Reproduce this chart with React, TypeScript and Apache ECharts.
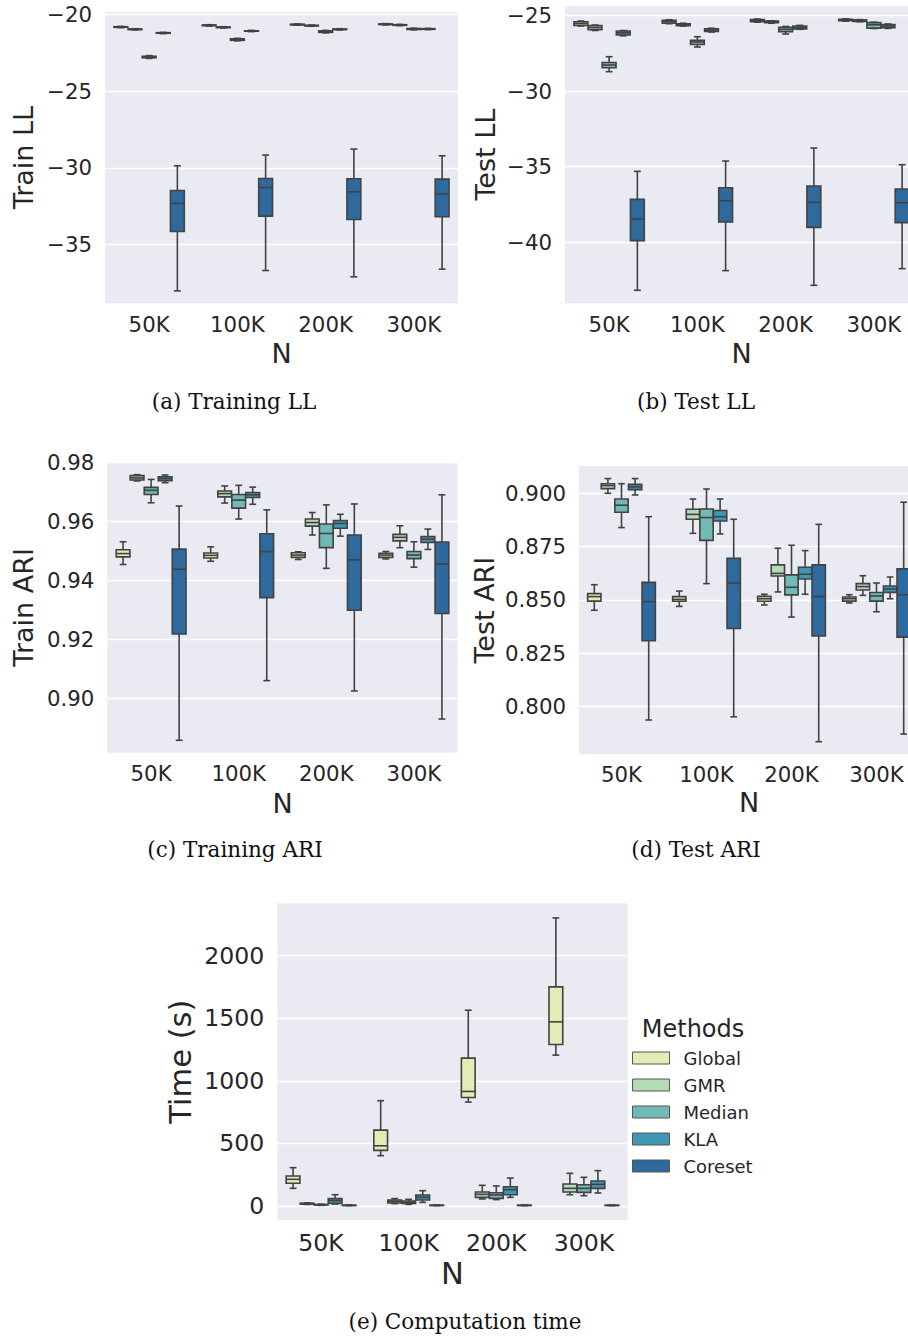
import React, { useEffect, useRef } from "react";
import * as echarts from "echarts";

const categories = ["50K", "100K", "200K", "300K"];
const methods = ["Global", "GMR", "Median", "KLA", "Coreset"];
const methodColors = ["#e2ecb4", "#b4dbb6", "#70b9b4", "#3e97b6", "#2e6a9e"];

// each row: [min, q1, median, q3, max] for 50K, 100K, 200K, 300K
const trainLLGlobal = [[-20.85, -20.83, -20.81, -20.79, -20.77], [-20.74, -20.72, -20.7, -20.68, -20.66], [-20.69, -20.67, -20.65, -20.63, -20.61], [-20.67, -20.65, -20.63, -20.61, -20.59]];
const trainLLGMR = [[-21.0, -20.98, -20.96, -20.94, -20.92], [-20.87, -20.85, -20.83, -20.81, -20.79], [-20.76, -20.74, -20.72, -20.7, -20.68], [-20.72, -20.7, -20.68, -20.66, -20.64]];
const trainLLMedian = [[-22.86, -22.82, -22.77, -22.72, -22.68], [-21.71, -21.68, -21.63, -21.58, -21.55], [-21.19, -21.16, -21.11, -21.06, -21.03], [-20.99, -20.97, -20.94, -20.91, -20.89]];
const trainLLKLA = [[-21.24, -21.22, -21.2, -21.18, -21.16], [-21.11, -21.09, -21.07, -21.05, -21.03], [-21.0, -20.98, -20.96, -20.94, -20.92], [-20.98, -20.96, -20.94, -20.92, -20.9]];
const trainLLCoreset = [[-38.04, -34.16, -32.33, -31.48, -29.87], [-36.71, -33.16, -31.29, -30.7, -29.17], [-37.12, -33.38, -31.57, -30.72, -28.78], [-36.62, -33.2, -31.7, -30.74, -29.22]];

const testLLGlobal = [[-25.7, -25.66, -25.53, -25.42, -25.37], [-25.55, -25.51, -25.4, -25.33, -25.29], [-25.45, -25.41, -25.33, -25.27, -25.24], [-25.38, -25.35, -25.3, -25.26, -25.23]];
const testLLGMR = [[-26.0, -25.95, -25.81, -25.68, -25.64], [-25.7, -25.68, -25.62, -25.55, -25.52], [-25.52, -25.49, -25.44, -25.38, -25.36], [-25.42, -25.4, -25.35, -25.3, -25.28]];
const testLLMedian = [[-28.72, -28.46, -28.28, -28.11, -27.73], [-27.09, -26.92, -26.76, -26.65, -26.41], [-26.23, -26.08, -25.93, -25.79, -25.73], [-25.87, -25.84, -25.62, -25.48, -25.45]];
const testLLKLA = [[-26.35, -26.3, -26.15, -26.03, -26.0], [-26.1, -26.06, -25.97, -25.88, -25.85], [-25.92, -25.89, -25.81, -25.7, -25.66], [-25.86, -25.82, -25.7, -25.6, -25.57]];
const testLLCoreset = [[-43.17, -39.89, -38.46, -37.16, -35.31], [-41.87, -38.66, -37.25, -36.39, -34.63], [-42.84, -39.01, -37.36, -36.28, -33.77], [-41.74, -38.7, -37.38, -36.48, -34.87]];

const trainARIGlobal = [[0.9453, 0.9479, 0.949, 0.9503, 0.953], [0.9464, 0.9475, 0.9484, 0.9492, 0.9513], [0.947, 0.9477, 0.9485, 0.9493, 0.9496], [0.9472, 0.9477, 0.9485, 0.9491, 0.9497]];
const trainARIGMR = [[0.9736, 0.9739, 0.9746, 0.9754, 0.9757], [0.9661, 0.9682, 0.9693, 0.9702, 0.9719], [0.9553, 0.9583, 0.9595, 0.9607, 0.9629], [0.951, 0.9533, 0.9545, 0.9555, 0.9584]];
const trainARIMedian = [[0.9662, 0.969, 0.9704, 0.9714, 0.9741], [0.9607, 0.9644, 0.9671, 0.969, 0.9721], [0.944, 0.951, 0.9558, 0.959, 0.9655], [0.9444, 0.9473, 0.9485, 0.9497, 0.953]];
const trainARIKLA = [[0.973, 0.9737, 0.9744, 0.975, 0.9756], [0.9657, 0.968, 0.9689, 0.9697, 0.9715], [0.9549, 0.9576, 0.9592, 0.9602, 0.9623], [0.9504, 0.9528, 0.9539, 0.9548, 0.9573]];
const trainARICoreset = [[0.8858, 0.9218, 0.9437, 0.9505, 0.9651], [0.906, 0.9341, 0.9497, 0.9557, 0.9638], [0.9025, 0.9298, 0.9469, 0.9553, 0.9658], [0.893, 0.9287, 0.9455, 0.9529, 0.9689]];

const testARIGlobal = [[0.8451, 0.8494, 0.8515, 0.8529, 0.8571], [0.8469, 0.8493, 0.8502, 0.8515, 0.8541], [0.8476, 0.8493, 0.8505, 0.8516, 0.8526], [0.8485, 0.8494, 0.8505, 0.8513, 0.8524]];
const testARIGMR = [[0.9, 0.9022, 0.9036, 0.9045, 0.9069], [0.8812, 0.8878, 0.8901, 0.8925, 0.8973], [0.8537, 0.8612, 0.8624, 0.8664, 0.8742], [0.8521, 0.8546, 0.8562, 0.8576, 0.8613]];
const testARIMedian = [[0.8839, 0.8911, 0.8944, 0.8973, 0.9045], [0.8576, 0.8779, 0.8886, 0.8926, 0.902], [0.8419, 0.8523, 0.8559, 0.8617, 0.8756], [0.8444, 0.8494, 0.8518, 0.8534, 0.8579]];
const testARIKLA = [[0.8992, 0.9017, 0.903, 0.9042, 0.9069], [0.8809, 0.887, 0.889, 0.8919, 0.8973], [0.8526, 0.8598, 0.862, 0.8653, 0.8731], [0.8505, 0.8535, 0.8551, 0.8565, 0.8607]];
const testARICoreset = [[0.7936, 0.8308, 0.8491, 0.8582, 0.889], [0.7951, 0.8366, 0.8579, 0.8695, 0.8878], [0.7834, 0.833, 0.8516, 0.8664, 0.8854], [0.787, 0.8325, 0.8524, 0.8645, 0.8958]];

const timeGlobal = [[141, 181, 213, 239, 306], [402, 444, 481, 606, 841], [830, 867, 915, 1181, 1564], [1205, 1290, 1471, 1750, 2301]];
const timeGMR = [[12, 15, 18, 22, 25], [19, 24, 37, 48, 59], [56, 69, 93, 112, 165], [90, 112, 141, 176, 261]];
const timeMedian = [[5, 8, 10, 12, 14], [13, 20, 29, 40, 53], [51, 61, 88, 106, 160], [82, 109, 141, 170, 229]];
const timeKLA = [[16, 21, 43, 59, 90], [29, 48, 69, 88, 122], [69, 90, 130, 154, 223], [104, 141, 173, 200, 282]];
const timeCoreset = [[3, 4, 5, 6, 7], [3, 4, 5, 6, 7], [3, 4, 5, 6, 7], [3, 4, 5, 6, 7]];

const trainLLTicks = [-35, -30, -25, -20];
const testLLTicks = [-40, -35, -30, -25];
const trainARITicks = [0.9, 0.92, 0.94, 0.96, 0.98];
const testARITicks = [0.8, 0.825, 0.85, 0.875, 0.9];
const timeTicks = [0, 500, 1000, 1500, 2000];

const TEXT = "#262626";
const EDGE = "#424242";
const FONT = "DejaVu Sans";

const panels = [
  { yName: "Train LL", data: [trainLLGlobal, trainLLGMR, trainLLMedian, trainLLKLA, trainLLCoreset], ticks: trainLLTicks, digits: 0, min: -38.85, max: -19.83,
    grid: { left: 105, top: 12, width: 353, height: 291.3 }, tickSize: 21.3, nameSize: 27, yGap: 68, xGap: 37, xMargin: 11, caption: "(a) Training LL", capX: 234, capY: 401 },
  { yName: "Test LL", data: [testLLGlobal, testLLGMR, testLLMedian, testLLKLA, testLLCoreset], ticks: testLLTicks, digits: 0, min: -44.03, max: -24.38,
    grid: { left: 565, top: 6, width: 353, height: 297.3 }, tickSize: 21.3, nameSize: 27, yGap: 66, xGap: 37, xMargin: 11, caption: "(b) Test LL", capX: 696, capY: 401 },
  { yName: "Train ARI", data: [trainARIGlobal, trainARIGMR, trainARIMedian, trainARIKLA, trainARICoreset], ticks: trainARITicks, digits: 2, min: 0.8816, max: 0.98,
    grid: { left: 107.3, top: 462, width: 350.4, height: 290.7 }, tickSize: 21.3, nameSize: 27, yGap: 70, xGap: 37, xMargin: 10, caption: "(c) Training ARI", capX: 235, capY: 849 },
  { yName: "Test ARI", data: [testARIGlobal, testARIGMR, testARIMedian, testARIKLA, testARICoreset], ticks: testARITicks, digits: 3, min: 0.7775, max: 0.9128,
    grid: { left: 579, top: 466, width: 340, height: 288.3 }, tickSize: 21.3, nameSize: 27, yGap: 81, xGap: 35, xMargin: 10, caption: "(d) Test ARI", capX: 696, capY: 849 },
  { yName: "Time (s)", data: [timeGlobal, timeGMR, timeMedian, timeKLA, timeCoreset], ticks: timeTicks, digits: 0, min: -112, max: 2418,
    grid: { left: 277.3, top: 903.3, width: 350.4, height: 316.7 }, tickSize: 23.6, nameSize: 30.5, yGap: 81, xGap: 38, xMargin: 11, caption: "(e) Computation time", capX: 465, capY: 1321 },
];

function fmt(v: number, digits: number) {
  const s = Math.abs(v).toFixed(digits);
  return v < 0 ? "\u2212" + s : s;
}

function makeRender(mi: number, color: string) {
  return (params: any, api: any) => {
    const c = api.value(0);
    const vals = [1, 2, 3, 4, 5].map((i) => api.value(i));
    const center = api.coord([c, vals[2]]);
    const band = api.size([1, 0])[0];
    const slot = (band * 0.8) / 5;
    const w = slot * 0.98;
    const cx = center[0] + (mi - 2) * slot;
    const y = vals.map((v: number) => api.coord([c, v])[1]);
    const ls = { stroke: EDGE, lineWidth: 1.6 };
    const cap = w / 4;
    return {
      type: "group",
      children: [
        { type: "line", shape: { x1: cx, y1: y[0], x2: cx, y2: y[1] }, style: ls },
        { type: "line", shape: { x1: cx, y1: y[3], x2: cx, y2: y[4] }, style: ls },
        { type: "line", shape: { x1: cx - cap, y1: y[0], x2: cx + cap, y2: y[0] }, style: ls },
        { type: "line", shape: { x1: cx - cap, y1: y[4], x2: cx + cap, y2: y[4] }, style: ls },
        { type: "rect", shape: { x: cx - w / 2, y: y[3], width: w, height: y[1] - y[3] }, style: { fill: color, stroke: EDGE, lineWidth: 1.6 } },
        { type: "line", shape: { x1: cx - w / 2, y1: y[2], x2: cx + w / 2, y2: y[2] }, style: ls },
      ],
    };
  };
}

export default function App() {
  const ref = useRef<HTMLDivElement>(null);
  useEffect(() => {
    if (!ref.current) return;
    const chart = echarts.init(ref.current, undefined, { renderer: "svg" });
    const grids: any[] = [];
    const xAxes: any[] = [];
    const yAxes: any[] = [];
    const series: any[] = [];
    const graphics: any[] = [];
    panels.forEach((p, pi) => {
      grids.push({ ...p.grid, show: true, backgroundColor: "#eaeaf2", borderWidth: 0, containLabel: false });
      xAxes.push({
        type: "category", gridIndex: pi, data: categories,
        axisLine: { show: false }, axisTick: { show: false }, splitLine: { show: false },
        axisLabel: { interval: 0, fontSize: p.tickSize, color: TEXT, fontFamily: FONT, margin: p.xMargin },
        name: "N", nameLocation: "middle", nameGap: p.xGap,
        nameTextStyle: { fontSize: p.nameSize, color: TEXT, fontFamily: FONT },
      });
      yAxes.push({
        type: "value", gridIndex: pi, min: p.min, max: p.max,
        axisLine: { show: false },
        axisTick: { show: false, customValues: p.ticks },
        axisLabel: { customValues: p.ticks, fontSize: p.tickSize, color: TEXT, fontFamily: FONT, margin: 13, formatter: (v: number) => fmt(v, p.digits) },
        splitLine: { show: true, lineStyle: { color: "#ffffff", width: 1.3 } },
        name: p.yName, nameLocation: "middle", nameGap: p.yGap,
        nameTextStyle: { fontSize: p.nameSize, color: TEXT, fontFamily: FONT },
      });
      methods.forEach((m, mi) => {
        series.push({
          type: "custom", name: m, xAxisIndex: pi, yAxisIndex: pi,
          itemStyle: { color: methodColors[mi] },
          encode: { x: 0, y: [1, 2, 3, 4, 5] },
          data: p.data[mi].map((row, ci) => [ci, ...row]),
          renderItem: makeRender(mi, methodColors[mi]),
        });
      });
      graphics.push({
        type: "text", x: p.capX, y: p.capY,
        style: { text: p.caption, font: `21.5px "DejaVu Serif"`, fill: "#111", textAlign: "center", textVerticalAlign: "middle" },
      });
    });
    graphics.push({
      type: "text", x: 693, y: 1029,
      style: { text: "Methods", font: `24px "DejaVu Sans"`, fill: TEXT, textAlign: "center", textVerticalAlign: "middle" },
    });
    chart.setOption({
      animation: false,
      textStyle: { fontFamily: FONT },
      grid: grids,
      xAxis: xAxes,
      yAxis: yAxes,
      series,
      legend: {
        data: methods, orient: "vertical", left: 632, top: 1049, padding: 0,
        itemWidth: 37, itemHeight: 12, itemGap: 9, icon: "rect", selectedMode: false,
        itemStyle: { borderColor: "#555", borderWidth: 1 },
        textStyle: { fontSize: 18, color: TEXT, fontFamily: FONT, padding: [0, 0, 0, 9] },
      },
      graphic: graphics,
    });
    return () => chart.dispose();
  }, []);
  return (
    <div style={{ position: "absolute", left: 0, top: 0, width: 908, height: 1338, overflow: "hidden", background: "#fff" }}>
      <div ref={ref} style={{ width: 940, height: 1338 }} />
    </div>
  );
}
